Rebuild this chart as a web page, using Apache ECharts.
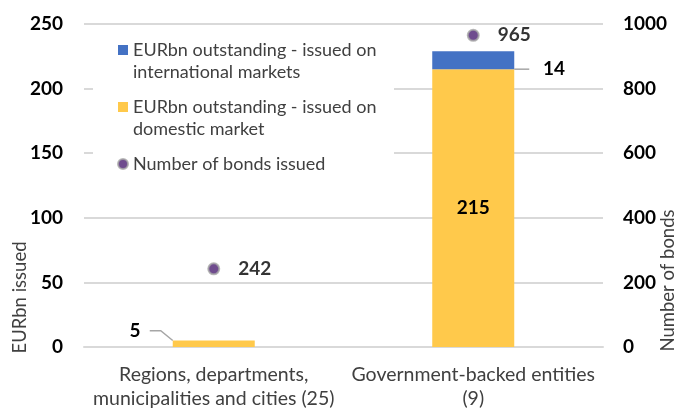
<!DOCTYPE html>
<html>
<head>
<meta charset="utf-8">
<script src="https://cdn.jsdelivr.net/npm/echarts@6/dist/echarts.min.js"></script>
<style>
  html, body { margin: 0; padding: 0; background: #fff; }
  #chart { width: 677px; height: 409px; }
</style>
</head>
<body>
<div id="chart"></div>
<script>
// data
const categories = ['Regions, departments,\nmunicipalities and cities (25)', 'Government-backed entities\n(9)']
const domestic = [5, 215]
const international = [null, 14]
const bondCount = [242, 965]
const leftTicks = { min: 0, max: 250, interval: 50 }
const rightTicks = { min: 0, max: 1000, interval: 200 }

const FONT = 'Lato'
const nameIntl = 'EURbn outstanding - issued on\ninternational markets'
const nameDom = 'EURbn outstanding - issued on\ndomestic market'
const nameCount = 'Number of bonds issued'

const chart = echarts.init(document.getElementById('chart'))

const boldLabel = {
  fontFamily: FONT,
  fontWeight: 'bold',
  fontSize: 19,
  color: '#000'
}

const leader = { show: true, length2: 11, lineStyle: { color: '#a6a6a6', width: 1.5 } }

const option = {
  animation: false,
  textStyle: { fontFamily: FONT },
  grid: { left: 84, right: 74, top: 24, bottom: 62, outerBoundsMode: 'none' },
  // white box behind the legend hides the grid lines
  graphic: [{
    type: 'rect',
    z: 1,
    shape: { x: 93, y: 31, width: 301, height: 157 },
    style: { fill: '#fff' }
  }],
  legend: {
    orient: 'vertical',
    left: 117,
    top: 17,
    padding: 0,
    itemWidth: 10,
    itemHeight: 10,
    itemGap: -9,
    // empty lines keep the first text line level with the icon
    formatter: (name) => name === nameCount ? ' \n' + name + '\n ' : ' \n' + name,
    textStyle: { fontFamily: FONT, fontSize: 18, color: '#404040', lineHeight: 22 },
    data: [
      { name: nameIntl, icon: 'rect' },
      { name: nameDom, icon: 'rect' },
      { name: nameCount, icon: 'circle' }
    ]
  },
  xAxis: {
    type: 'category',
    data: categories,
    axisTick: { show: false },
    axisLine: { lineStyle: { color: '#d9d9d9', width: 2 } },
    axisLabel: {
      interval: 0,
      margin: 16,
      fontFamily: FONT,
      fontSize: 19.5,
      lineHeight: 24,
      color: '#404040'
    }
  },
  yAxis: [
    {
      type: 'value',
      min: leftTicks.min,
      max: leftTicks.max,
      interval: leftTicks.interval,
      name: 'EURbn issued',
      nameLocation: 'middle',
      nameRotate: 90,
      nameGap: 54,
      nameMoveOverlap: false,
      nameTextStyle: { fontFamily: FONT, fontSize: 18.5, color: '#404040', padding: [0, 224, 0, 0] },
      axisLine: { show: false },
      axisTick: { show: false },
      axisLabel: { margin: 21, ...boldLabel },
      splitLine: { lineStyle: { color: '#d9d9d9', width: 2 } }
    },
    {
      type: 'value',
      position: 'right',
      min: rightTicks.min,
      max: rightTicks.max,
      interval: rightTicks.interval,
      name: 'Number of bonds',
      nameLocation: 'middle',
      nameRotate: 90,
      nameGap: 56,
      nameMoveOverlap: false,
      nameTextStyle: { fontFamily: FONT, fontSize: 18.5, color: '#404040', padding: [0, 190, 0, 0] },
      axisLine: { show: false },
      axisTick: { show: false },
      axisLabel: { margin: 20, formatter: (v) => String(v), ...boldLabel },
      splitLine: { show: false }
    }
  ],
  series: [
    {
      name: nameDom,
      type: 'bar',
      stack: 'eur',
      barWidth: '31.6%',
      itemStyle: { color: '#FFC94B' },
      data: domestic.map((v, i) => i === 0
        ? { value: v, label: { position: 'left', formatter: '{c}  ' } }
        : { value: v, label: { position: 'inside' }, labelLine: { show: false } }),
      label: { show: true, ...boldLabel },
      labelLine: leader,
      labelLayout: (params) => params.dataIndex === 0 ? { dx: -18, dy: -13 } : {}
    },
    {
      name: nameIntl,
      type: 'bar',
      stack: 'eur',
      barWidth: '31.6%',
      itemStyle: { color: '#4472C4' },
      data: international,
      label: { show: true, position: 'right', formatter: '   {c}', ...boldLabel },
      labelLine: leader,
      labelLayout: { dx: 10, dy: 9 }
    },
    {
      name: nameCount,
      type: 'scatter',
      yAxisIndex: 1,
      symbolSize: 11,
      itemStyle: { color: '#4B1F72', borderColor: '#a6a6a6', borderWidth: 2 },
      data: bondCount,
      label: { show: true, position: 'right', distance: 18, ...boldLabel }
    }
  ]
}

chart.setOption(option)
</script>
</body>
</html>
